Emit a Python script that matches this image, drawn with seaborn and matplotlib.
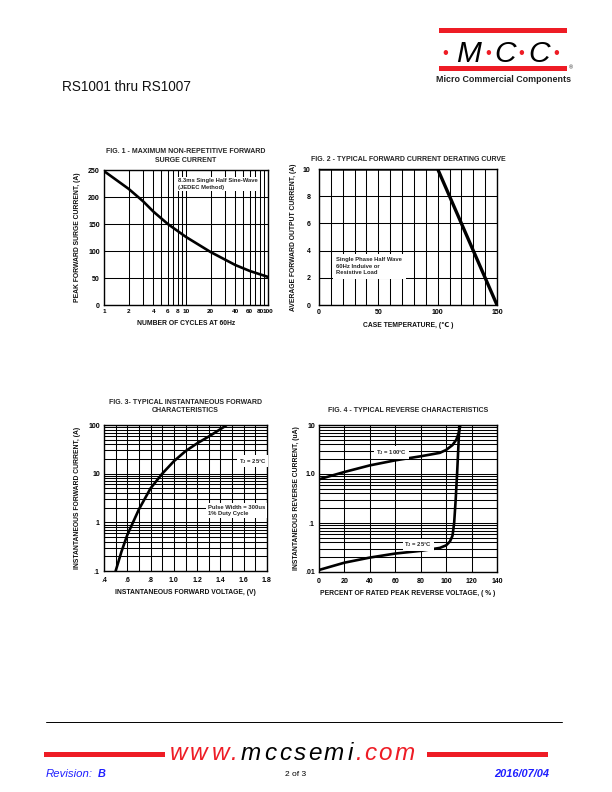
import numpy as np
import pandas as pd
import matplotlib
matplotlib.use("Agg")
import matplotlib.pyplot as plt
import seaborn as sns
from matplotlib.patches import Rectangle
from matplotlib.lines import Line2D
from matplotlib.ticker import NullFormatter, NullLocator

# ---------------- data ----------------
fig1_cycles = [1, 2, 3, 4, 6, 10, 20, 40, 60, 100]
fig1_current = [248, 215, 192, 173, 150, 126, 98, 74, 63, 52]

fig2_temp = [0, 100, 150]
fig2_current = [10, 10, 0]

fig3_voltage = [0.5, 0.55, 0.6, 0.7, 0.8, 0.9, 1.0, 1.1, 1.2, 1.3, 1.45]
fig3_current = [0.1, 0.25, 0.55, 1.85, 5.0, 10, 18, 29, 42, 58, 98]

fig4_pct_100 = [0, 20, 40, 60, 80, 95, 100, 105, 108, 110, 111.2]
fig4_cur_100 = [0.78, 1.1, 1.5, 1.9, 2.3, 2.7, 3.1, 3.9, 5.0, 7.0, 10]
fig4_pct_25 = [0, 20, 40, 60, 80, 95, 100, 103, 105, 106.3, 107.5, 108.6, 109.6, 110.4]
fig4_cur_25 = [0.011, 0.0155, 0.0197, 0.0238, 0.027, 0.031, 0.035, 0.042, 0.055, 0.1, 0.3, 1.0, 3.5, 10]

fig1_xticks = [1, 2, 3, 4, 5, 6, 7, 8, 9, 10, 20, 30, 40, 50, 60, 70, 80, 90, 100]
fig1_xlabels = ["1", "2", "", "4", "", "6", "", "8", "", "10", "20", "", "40", "", "60", "", "80", "", "100"]
fig1_yticks = [0, 50, 100, 150, 200, 250]

fig2_xticks = list(range(0, 151, 10))
fig2_xlabels = ["0", "", "", "", "", "50", "", "", "", "", "100", "", "", "", "", "150"]
fig2_yticks = [0, 2, 4, 6, 8, 10]

fig3_xticks = [0.4, 0.5, 0.6, 0.7, 0.8, 0.9, 1.0, 1.1, 1.2, 1.3, 1.4, 1.5, 1.6, 1.7, 1.8]
fig3_xlabels = [".4", "", ".6", "", ".8", "", "1.0", "", "1.2", "", "1.4", "", "1.6", "", "1.8"]
fig3_yticks = [0.1, 1, 10, 100]
fig3_ylabels = [".1", "1", "10", "100"]

fig4_xticks = [0, 20, 40, 60, 80, 100, 120, 140]
fig4_yticks = [0.01, 0.1, 1, 10]
fig4_ylabels = [".01", ".1", "1.0", "10"]

# ---------------- style ----------------
sns.set_style("white")
plt.rcParams["font.family"] = ["Liberation Sans", "DejaVu Sans"]
plt.rcParams["mathtext.default"] = "regular"

W, H = 612, 792
fig = plt.figure(figsize=(W / 100, H / 100), dpi=100)


def ax_at(x0, y0, x1, y1):
    return fig.add_axes([x0 / W, 1 - y1 / H, (x1 - x0) / W, (y1 - y0) / H])


def fx(x):
    return x / W


def fy(y):
    return 1 - y / H


FS = 5.0
GRID = dict(color="black", lw=0.75)
LAB = dict(fontsize=4.9, fontweight="bold", color="#111111")
TIT = dict(fontsize=5.0, fontweight="bold")
ANN = dict(fontsize=4.2, fontweight="bold")


def style_ax(ax, xpad=3, ypad=3, xfs=FS):
    for s in ax.spines.values():
        s.set_visible(True)
        s.set_color("black")
        s.set_linewidth(1.0)
    ax.tick_params(which="both", length=0, labelsize=FS, colors="black")
    ax.tick_params(axis="x", pad=xpad, labelsize=xfs)
    ax.tick_params(axis="y", pad=ypad)
    for lab in ax.get_xticklabels() + ax.get_yticklabels():
        lab.set_fontweight("bold")


def minor_log(lo_exp, hi_exp):
    vals = []
    for e in range(lo_exp, hi_exp):
        for m in range(2, 10):
            vals.append(m * 10.0 ** e)
    return vals


# ---------------- Fig 1 ----------------
ax1 = ax_at(104, 170, 268, 305)
sns.lineplot(x=fig1_cycles, y=fig1_current, ax=ax1, color="black", lw=1.9)
ax1.set_xscale("log")
ax1.set_xlim(1, 100)
ax1.set_ylim(0, 250)
ax1.set_xticks(fig1_xticks)
ax1.set_xticklabels(fig1_xlabels)
ax1.xaxis.set_minor_locator(NullLocator())
ax1.xaxis.set_minor_formatter(NullFormatter())
ax1.set_yticks(fig1_yticks)
ax1.set_yticklabels([str(v) for v in fig1_yticks])
ax1.grid(True, which="major", **GRID)
style_ax(ax1, xfs=4.6)
ax1.set_title("FIG. 1 - MAXIMUM NON-REPETITIVE FORWARD\nSURGE CURRENT",
              pad=6, linespacing=1.3, **TIT)
ax1.set_xlabel("NUMBER OF CYCLES AT 60Hz", labelpad=4, **LAB)
ax1.set_ylabel("PEAK FORWARD SURGE CURRENT, (A)", labelpad=5, **LAB)
ax1.text(8, 224, "8.3ms Single Half Sine-Wave\n(JEDEC Method)",
         ha="left", va="center", linespacing=1.3,
         bbox=dict(facecolor="white", edgecolor="none", pad=1.2), **ANN)

# ---------------- Fig 2 ----------------
ax2 = ax_at(319, 169, 497, 305)
sns.lineplot(x=fig2_temp, y=fig2_current, ax=ax2, color="black", lw=2.4)
ax2.set_xlim(0, 150)
ax2.set_ylim(0, 10)
ax2.set_xticks(fig2_xticks)
ax2.set_xticklabels(fig2_xlabels)
ax2.set_yticks(fig2_yticks)
ax2.set_yticklabels([str(v) for v in fig2_yticks])
ax2.grid(True, **GRID)
style_ax(ax2, ypad=6)
ax2.set_title("FIG. 2 - TYPICAL FORWARD CURRENT DERATING CURVE", pad=6, **TIT)
ax2.set_xlabel("CASE TEMPERATURE, (\u2103 )", labelpad=4, **LAB)
ax2.set_ylabel("AVERAGE FORWARD OUTPUT CURRENT, (A)", labelpad=4, **LAB)
ax2.text(14.5, 2.85, "Single Phase Half Wave\n60Hz Induive or\nResistive Load",
         ha="left", va="center", linespacing=1.35,
         bbox=dict(facecolor="white", edgecolor="none", pad=2.5), **ANN)

# ---------------- Fig 3 ----------------
ax3 = ax_at(104, 425, 267, 571)
sns.lineplot(x=fig3_voltage, y=fig3_current, ax=ax3, color="black", lw=1.9)
ax3.set_yscale("log")
ax3.set_xlim(0.4, 1.8)
ax3.set_ylim(0.1, 100)
ax3.set_xticks(fig3_xticks)
ax3.set_xticklabels(fig3_xlabels)
ax3.set_yticks(fig3_yticks)
ax3.set_yticklabels(fig3_ylabels)
ax3.set_yticks(minor_log(-1, 2), minor=True)
ax3.yaxis.set_minor_formatter(NullFormatter())
ax3.grid(True, which="both", **GRID)
style_ax(ax3, xpad=4)
ax3.set_title("FIG. 3- TYPICAL INSTANTANEOUS FORWARD\nCHARACTERISTICS",
              pad=9, linespacing=1.3, **TIT)
ax3.set_xlabel("INSTANTANEOUS FORWARD VOLTAGE, (V)", labelpad=4, **LAB)
ax3.set_ylabel("INSTANTANEOUS FORWARD CURRENT, (A)", labelpad=5, **LAB)
ax3.text(1.56, 18, "T$_J$ = 25\u00b0C", ha="left", va="center",
         bbox=dict(facecolor="white", edgecolor="none", pad=1.2), **ANN)
ax3.text(1.29, 1.75, "Pulse Width = 300us\n1% Duty Cycle",
         ha="left", va="center", linespacing=1.3,
         bbox=dict(facecolor="white", edgecolor="none", pad=1.2), **ANN)

# ---------------- Fig 4 ----------------
ax4 = ax_at(319, 425, 497, 572)
sns.lineplot(x=fig4_pct_100, y=fig4_cur_100, ax=ax4, color="black", lw=1.9)
sns.lineplot(x=fig4_pct_25, y=fig4_cur_25, ax=ax4, color="black", lw=1.9)
ax4.set_yscale("log")
ax4.set_xlim(0, 140)
ax4.set_ylim(0.01, 10)
ax4.set_xticks(fig4_xticks)
ax4.set_xticklabels([str(v) for v in fig4_xticks])
ax4.set_yticks(fig4_yticks)
ax4.set_yticklabels(fig4_ylabels)
ax4.set_yticks(minor_log(-2, 1), minor=True)
ax4.yaxis.set_minor_formatter(NullFormatter())
ax4.grid(True, which="both", **GRID)
style_ax(ax4, xpad=4)
ax4.set_title("FIG. 4 - TYPICAL REVERSE CHARACTERISTICS", pad=9, **TIT)
ax4.set_xlabel("PERCENT OF RATED PEAK REVERSE VOLTAGE, ( % )", labelpad=4, **LAB)
ax4.set_ylabel("INSTANTANEOUS REVERSE CURRENT, (uA)", labelpad=4, **LAB)
ax4.text(57, 2.75, "T$_J$ = 100\u00b0C", ha="center", va="center",
         bbox=dict(facecolor="white", edgecolor="none", pad=1.2), **ANN)
ax4.text(78, 0.036, "T$_J$ = 25\u00b0C", ha="center", va="center",
         bbox=dict(facecolor="white", edgecolor="none", pad=1.2), **ANN)

# ---------------- page header ----------------
fig.text(fx(62), fy(91), "RS1001 thru RS1007", fontsize=9.8, ha="left",
         va="baseline", color="#111111")

RED = "#ee1c25"
fig.add_artist(Rectangle((fx(439), fy(32.5)), (567 - 439) / W, 4 / H,
                         transform=fig.transFigure, color=RED, lw=0))
fig.add_artist(Rectangle((fx(439), fy(70.5)), (567 - 439) / W, 4 / H,
                         transform=fig.transFigure, color=RED, lw=0))
for xdot in [445, 488, 521, 556]:
    fig.text(fx(xdot), fy(58), "\u2022", fontsize=12, color=RED,
             ha="center", va="baseline")
for xl, ch in [(469, "M"), (505, "C"), (539, "C")]:
    fig.text(fx(xl), fy(61.5), ch, fontsize=21.5, style="italic", color="black",
             ha="center", va="baseline")
fig.text(fx(569), fy(69), "\u00ae", fontsize=4, ha="left", va="baseline")
fig.text(fx(503), fy(82), "Micro Commercial Components", fontsize=6.4,
         fontweight="bold", ha="center", va="baseline", color="#222222")

# ---------------- page footer ----------------
fig.add_artist(Line2D([fx(46), fx(562)], [fy(722), fy(722)],
                      transform=fig.transFigure, color="black", lw=0.7))
fig.add_artist(Rectangle((fx(44), fy(756.5)), (165 - 44) / W, 4.5 / H,
                         transform=fig.transFigure, color=RED, lw=0))
fig.add_artist(Rectangle((fx(427), fy(756.5)), (548 - 427) / W, 4.5 / H,
                         transform=fig.transFigure, color=RED, lw=0))
url_chars = list("www.mccsemi.com")
url_x = [179, 199, 220.5, 233.5, 250.5, 270, 285, 300, 315, 334, 350.5, 358.5, 370, 385, 405]
url_col = [RED] * 4 + ["black"] * 7 + [RED] * 4
for ch, xx, cc in zip(url_chars, url_x, url_col):
    fig.text(fx(xx), fy(760), ch, fontsize=17.5, style="italic", color=cc,
             ha="center", va="baseline")

BLUE = "#1f1fff"
fig.text(fx(46), fy(777), "Revision:", fontsize=8.2, style="italic",
         color=BLUE, ha="left", va="baseline")
fig.text(fx(98), fy(777), "B", fontsize=7.8, style="italic", fontweight="bold",
         color=BLUE, ha="left", va="baseline")
fig.text(fx(296), fy(776), "2 of 3", fontsize=6, color="black",
         ha="center", va="baseline")
fig.text(fx(549), fy(777), "2016/07/04", fontsize=7.9, style="italic",
         fontweight="bold", color=BLUE, ha="right", va="baseline")

fig.savefig("out.png", dpi=100)
